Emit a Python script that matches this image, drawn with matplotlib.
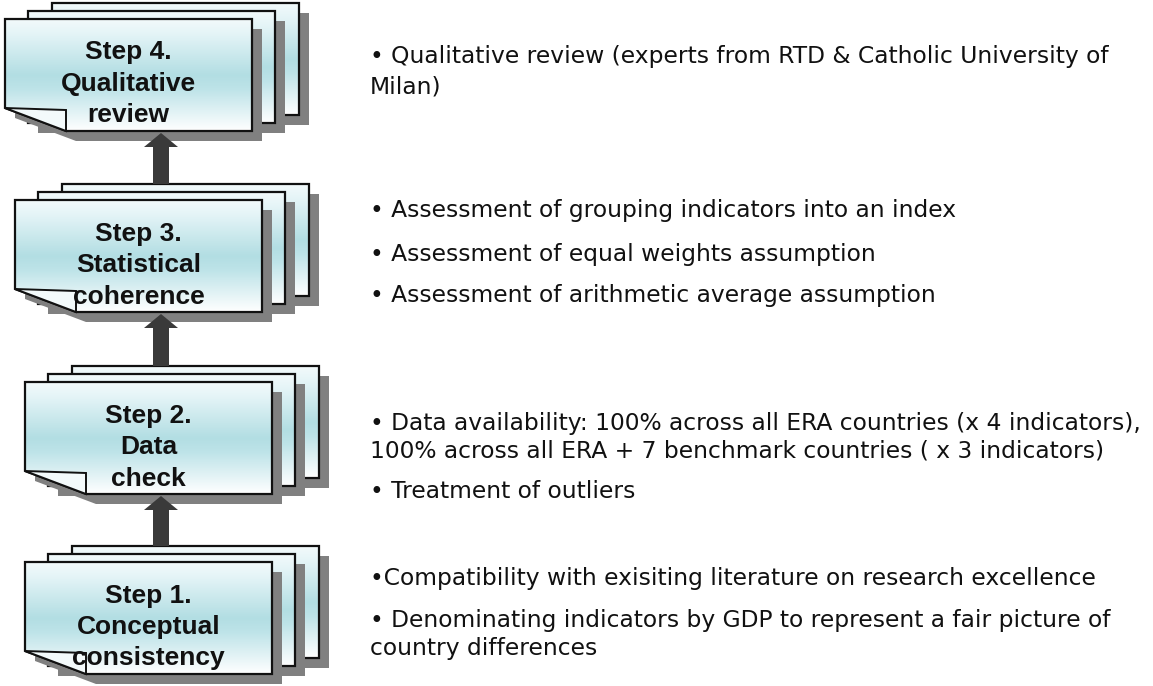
import matplotlib
matplotlib.use("Agg")
import matplotlib.pyplot as plt
import numpy as np
from matplotlib.patches import Polygon, FancyArrow

# ---- content ----
step_titles = [
    ["Step 4.", "Qualitative", "review"],
    ["Step 3.", "Statistical", "coherence"],
    ["Step 2.", "Data", "check"],
    ["Step 1.", "Conceptual", "consistency"],
]
step4_text = ["• Qualitative review (experts from RTD & Catholic University of",
              "Milan)"]
step3_text = ["• Assessment of grouping indicators into an index",
              "• Assessment of equal weights assumption",
              "• Assessment of arithmetic average assumption"]
step2_text = ["• Data availability: 100% across all ERA countries (x 4 indicators),",
              "100% across all ERA + 7 benchmark countries ( x 3 indicators)",
              "• Treatment of outliers"]
step1_text = ["•Compatibility with exisiting literature on research excellence",
              "• Denominating indicators by GDP to represent a fair picture of",
              "country differences"]
descriptions = [step4_text, step3_text, step2_text, step1_text]

# ---- layout (pixel space) ----
W, H = 1153, 686
fig = plt.figure(figsize=(W / 100, H / 100), dpi=100)
ax = fig.add_axes([0, 0, 1, 1])
ax.set_xlim(0, W)
ax.set_ylim(H, 0)
ax.axis("off")

front_pos = [(5, 19), (15, 200), (25, 382), (25, 562)]
desc_baselines = [[63, 93], [217, 261, 302], [430, 458, 498], [585, 627, 655]]
PW, PH = 247, 112
SH = 10  # shadow offset
title_offsets = [40.5, 72, 103.5]

# vertical gradient: light top, blue middle, white bottom
stops_pos = [0.0, 0.12, 0.5, 0.62, 1.0]
stops_col = [(0.95, 0.98, 0.985), (0.90, 0.96, 0.97), (0.70, 0.87, 0.89),
             (0.74, 0.89, 0.91), (1.0, 1.0, 1.0)]
n = 200
t = np.linspace(0, 1, n)
grad = np.zeros((n, 1, 3))
for c in range(3):
    grad[:, 0, c] = np.interp(t, stops_pos, [s[c] for s in stops_col])


def page(L, T, front, z):
    R, B = L + PW, T + PH
    if front:
        pts = [(L, T), (R, T), (R, B), (L + 61, B), (L, B - 23)]
    else:
        pts = [(L, T), (R, T), (R, B), (L, B)]
    sh = Polygon([(x + SH, y + SH) for x, y in pts], closed=True,
                 facecolor="#808080", edgecolor="none", zorder=z)
    ax.add_patch(sh)
    body = Polygon(pts, closed=True, facecolor="none", edgecolor="none",
                   zorder=z + 0.1)
    ax.add_patch(body)
    im = ax.imshow(grad, extent=[L, R, B, T], origin="upper", aspect="auto",
                   interpolation="bilinear", zorder=z + 0.2)
    im.set_clip_path(body)
    edge = Polygon(pts, closed=True, facecolor="none", edgecolor="#111111",
                   linewidth=1.6, zorder=z + 0.3)
    ax.add_patch(edge)
    if front:
        flap = Polygon([(L, B - 23), (L + 61, B - 21), (L + 61, B)], closed=True,
                       facecolor="#f3fafb", edgecolor="#111111", linewidth=1.4,
                       zorder=z + 0.4)
        ax.add_patch(flap)


for i, (L, T) in enumerate(front_pos):
    z = 10 * (i + 1)
    page(L + 47, T - 16, False, z)
    page(L + 23, T - 8, False, z + 1)
    page(L, T, True, z + 2)
    cx = L + PW / 2
    for line, off in zip(step_titles[i], title_offsets):
        ax.text(cx, T + off, line, ha="center", va="baseline",
                fontsize=19, fontweight="bold", family="Liberation Sans",
                color="#111111", zorder=z + 3)
    for line, yb in zip(descriptions[i], desc_baselines[i]):
        ax.text(370, yb, line, ha="left", va="baseline", fontsize=16.8,
                family="DejaVu Sans", color="#111111", zorder=5)

# arrows between steps (from lower group's back page top to upper front bottom)
AX = 161
for i in range(3):
    L, T = front_pos[i]
    tip = T + PH + 2
    Lb, Tb = front_pos[i + 1]
    start = Tb - 16
    arr = FancyArrow(AX, start, 0, tip - start, width=16, head_width=34,
                     head_length=14, length_includes_head=True,
                     facecolor="#3a3a3a", edgecolor="none", zorder=100)
    ax.add_patch(arr)

ax.set_xlim(0, W)
ax.set_ylim(H, 0)
fig.savefig("out.png", dpi=100, facecolor="white")
